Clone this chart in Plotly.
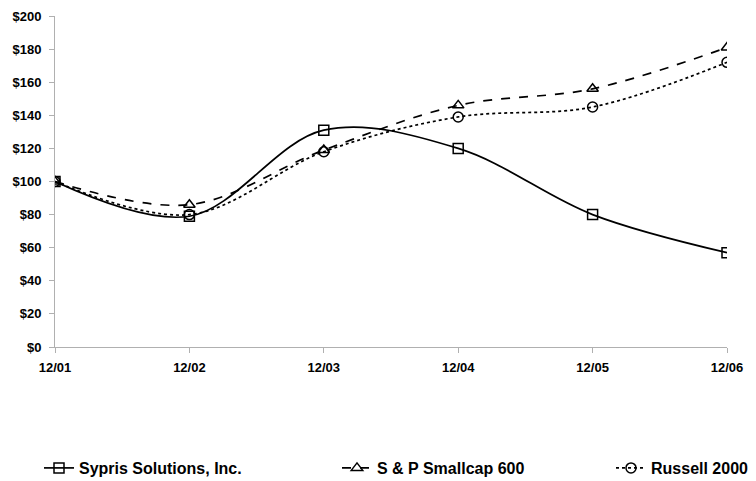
import plotly.graph_objects as go

categories = ["12/01", "12/02", "12/03", "12/04", "12/05", "12/06"]
sypris = [100, 79, 131, 120, 80, 57]
sp600 = [100, 86, 119, 146, 156, 181]
russell = [100, 80, 118, 139, 145, 172]
y_ticks = list(range(0, 201, 20))
y_labels = [f"${v}" for v in y_ticks]

xpos = list(range(len(categories)))

fig = go.Figure()
series = [
    ("Sypris Solutions, Inc.", sypris, "solid", "square-open", "legend"),
    ("S & P Smallcap 600", sp600, "dash", "triangle-up-open", "legend2"),
    ("Russell 2000", russell, "dot", "circle-open", "legend3"),
]
for name, vals, dash, sym, leg in series:
    fig.add_trace(go.Scatter(
        x=xpos, y=vals, name=name, mode="lines+markers", legend=leg,
        line=dict(color="black", width=1.7, dash=dash, shape="spline", smoothing=1),
        marker=dict(symbol=sym, size=10, color="black", line=dict(width=1.5, color="black")),
    ))

FAM = "Liberation Sans, Arial, sans-serif"
lfont = dict(family=FAM, size=16, color="black", weight="bold")
ML, MR, MT, MB = 47, 37, 8, 142
plot_w = 756 - ML - MR
plot_h = 481 - MT - MB
def legpos(px):
    return dict(orientation="h", x=(px - ML) / plot_w, xanchor="left",
                y=((481 - MB) - 460) / plot_h, yanchor="middle",
                font=lfont, bgcolor="rgba(0,0,0,0)")

fig.update_layout(
    width=756, height=481,
    margin=dict(l=ML, r=MR, t=MT, b=MB, autoexpand=False),
    paper_bgcolor="white", plot_bgcolor="white",
    font=dict(family=FAM, color="black"),
    showlegend=True,
    legend=legpos(31),
    legend2=legpos(329),
    legend3=legpos(603),
)
tickfont = dict(family=FAM, size=13, color="black", weight="bold")
fig.update_xaxes(
    range=[0, 5], tickvals=xpos, ticktext=categories, automargin=False,
    showgrid=False, zeroline=False, showline=True, linecolor="#b0b0b0", linewidth=1,
    ticks="outside", ticklen=5, tickcolor="#b0b0b0", ticklabelstandoff=3,
    tickfont=tickfont,
)
fig.update_yaxes(
    range=[0, 200], tickvals=y_ticks, ticktext=y_labels, automargin=False,
    showgrid=False, zeroline=False, showline=True, linecolor="#b0b0b0", linewidth=1,
    ticks="outside", ticklen=5, tickcolor="#b0b0b0", ticklabelstandoff=5,
    tickfont=tickfont,
)
fig.write_html("out.html")
